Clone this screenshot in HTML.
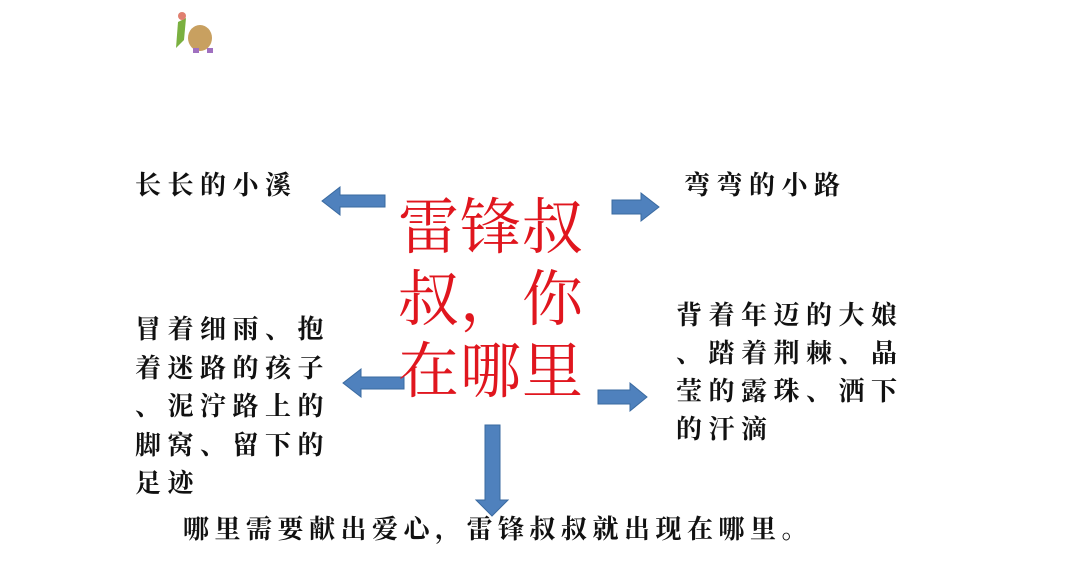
<!DOCTYPE html>
<html><head><meta charset="utf-8"><style>
body{margin:0;width:1080px;height:588px;background:#fff;position:relative;overflow:hidden}
.t{position:absolute;font-family:"Liberation Serif","Noto Serif CJK SC",serif;font-weight:bold;color:#111;font-size:26px;letter-spacing:6.5px;line-height:38px;white-space:nowrap}
.r{position:absolute;left:398px;top:193px;font-family:"Liberation Serif","Noto Serif CJK SC",serif;color:#e0161e;font-size:61px;line-height:72px;letter-spacing:1px}
svg{position:absolute;left:0;top:0}
</style></head><body>
<svg width="1080" height="588">
<g fill="#4f81bd" stroke="#3a6aa0" stroke-width="1">
<polygon points="385,195 340,195 340,187 322,201 340,215 340,207 385,207"/>
<polygon points="612,200 641,200 641,193 659,207 641,221 641,214 612,214"/>
<polygon points="404,377 361,377 361,369 343,383 361,397 361,389 404,389"/>
<polygon points="598,390 630,390 630,383 647,397 630,411 630,404 598,404"/>
<polygon points="485,425 500,425 500,500 508,500 492,516 476,500 485,500"/>
</g>
<g>
<ellipse cx="200" cy="38" rx="12" ry="13" fill="#c8a060"/>
<path d="M178 22 L186 18 L184 40 L176 48Z" fill="#7ab040"/>
<circle cx="182" cy="16" r="4" fill="#e08070"/>
<rect x="193" y="48" width="6" height="5" fill="#a070c0"/>
<rect x="207" y="48" width="6" height="5" fill="#a070c0"/>
</g>
</svg>
<div class="t" style="left:135px;top:167px">长长的小溪</div>
<div class="t" style="left:684px;top:167px">弯弯的小路</div>
<div class="t" style="left:135px;top:311px;line-height:38.5px">冒着细雨、抱<br>着迷路的孩子<br>、泥泞路上的<br>脚窝、留下的<br>足迹</div>
<div class="t" style="left:676px;top:297px">背着年迈的大娘<br>、踏着荆棘、晶<br>莹的露珠、洒下<br>的汗滴</div>
<div class="t" style="left:183px;top:511px;letter-spacing:5.5px">哪里需要献出爱心，雷锋叔叔就出现在哪里。</div>
<div class="r">雷锋叔<br>叔，你<br>在哪里</div>
</body></html>
